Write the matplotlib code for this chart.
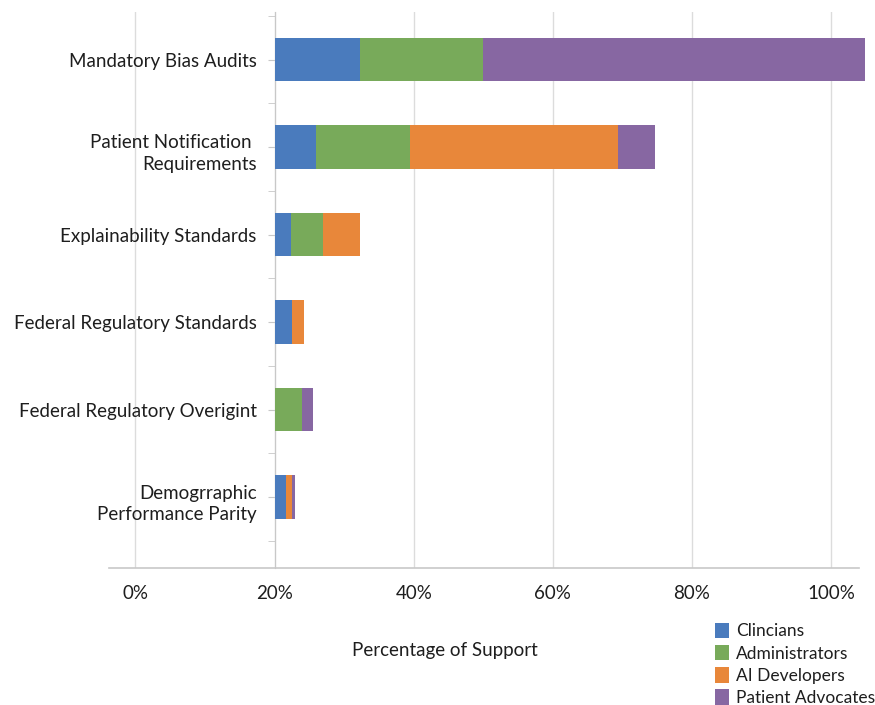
import matplotlib
matplotlib.use("Agg")
import matplotlib.pyplot as plt
from matplotlib.ticker import FixedLocator, PercentFormatter
from matplotlib.transforms import offset_copy

plt.rcParams["font.family"] = ["Lato", "DejaVu Sans"]

categories = [
    "Mandatory Bias Audits",
    "Patient Notification \nRequirements",
    "Explainability Standards",
    "Federal Regulatory Standards",
    "Federal Regulatory Overigint",
    "Demogrraphic\nPerformance Parity",
]
groups = ["Clincians", "Administrators", "AI Developers", "Patient Advocates"]

# bars start at the 20% line, segment widths in percent points
start = 20
clinicians = [12.3, 6.0, 2.3, 2.5, 0.0, 1.6]
administrators = [17.6, 13.4, 4.6, 0.0, 3.9, 0.0]
ai_developers = [0.0, 29.9, 5.4, 1.7, 0.0, 0.9]
patient_advocates = [55.0, 5.4, 0.0, 0.0, 1.6, 0.5]

colors = ["#4a7bbd", "#78aa5a", "#e8873a", "#8767a2"]
text_color = "#1e1e1e"
grid_color = "#dcdcdc"

fig = plt.figure(figsize=(8.75, 7.05), dpi=100)
ax = fig.add_axes([0.1246, 0.1943, 0.8571, 0.7887])

ypos = list(range(len(categories)))
left = [start] * len(categories)
for name, vals, col in zip(groups, [clinicians, administrators, ai_developers, patient_advocates], colors):
    ax.barh(ypos, vals, left=left, height=0.5, color=col, label=name, clip_on=False, zorder=3)
    left = [l + v for l, v in zip(left, vals)]

ax.set_xlim(-3.8, 104.0)
ax.set_ylim(5.81, -0.543)

ax.set_xticks([0, 20, 40, 60, 80, 100])
ax.xaxis.set_major_formatter(PercentFormatter(decimals=0))
ax.grid(axis="x", color=grid_color, linewidth=1.0, zorder=0)
ax.set_axisbelow(True)

ax.spines["top"].set_visible(False)
ax.spines["right"].set_visible(False)
ax.spines["left"].set_position(("data", start))
ax.spines["left"].set_color("#c8c8c8")
ax.spines["bottom"].set_color("#c8c8c8")
ax.spines["bottom"].set_linewidth(1.2)

ax.tick_params(axis="x", length=0, pad=12, labelsize=13.5, labelcolor=text_color)
ax.tick_params(axis="y", which="both", direction="out", length=5, color="#c8c8c8",
               pad=8, labelsize=13.5, labelcolor=text_color)

ax.set_yticks(ypos)
ax.yaxis.set_minor_locator(FixedLocator([i - 0.5 for i in range(len(categories) + 1)]))
ax.set_yticklabels(categories, linespacing=1.33)

ax.set_xlabel("Percentage of Support", fontsize=13.5, color=text_color)
ax.xaxis.label.set_va("center")
ax.xaxis.set_label_coords(0.448, -0.149)

fig.legend(loc="upper left", bbox_to_anchor=(0.817, 0.117), frameon=False,
           fontsize=12.5, handlelength=0.8, handleheight=1.0, handletextpad=0.4,
           labelspacing=0.32, borderpad=0, borderaxespad=0, labelcolor=text_color)

fig.canvas.draw()
# two-line labels hang from the tick: first baseline sits on it
for tick in ax.yaxis.get_major_ticks():
    lab = tick.label1
    if "\n" in lab.get_text():
        lab.set_verticalalignment("baseline")
        lab.set_transform(offset_copy(lab.get_transform(), fig=fig, y=-23, units="dots"))

fig.savefig("out.png", dpi=100, facecolor="white")
